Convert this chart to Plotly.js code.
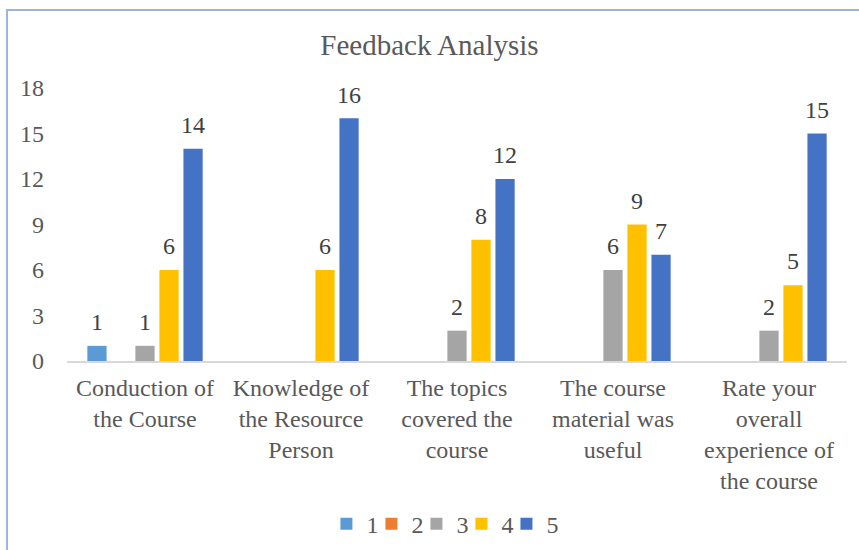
<!DOCTYPE html>
<html><head><meta charset="utf-8">
<script src="https://cdn.plot.ly/plotly-3.0.1.min.js"></script>
<style>
html,body{margin:0;padding:0;background:#fff;}
#wrap{position:relative;width:859px;height:550px;overflow:hidden;}
#chart{position:absolute;left:0;top:0;width:859px;height:550px;}
#frame{position:absolute;left:6px;top:9px;width:900px;height:600px;border-left:2px solid #9DB5DC;border-top:2px solid #9DB5DC;pointer-events:none;}
</style>
</head><body>
<div id="wrap"><div id="chart"></div><div id="frame"></div></div>
<script>
const categories = [
  "Conduction of<br>the Course",
  "Knowledge of<br>the Resource<br>Person",
  "The topics<br>covered the<br>course",
  "The course<br>material was<br>useful",
  "Rate your<br>overall<br>experience of<br>the course"
];
const seriesNames = ["1","2","3","4","5"];
const s1 = [1, null, null, null, null];
const s2 = [null, null, null, null, null];
const s3 = [1, null, 2, 6, 2];
const s4 = [6, 6, 8, 9, 5];
const s5 = [14, 16, 12, 7, 15];
const colors = ["#5B9BD5","#ED7D31","#A5A5A5","#FFC000","#4472C4"];
const values = [s1,s2,s3,s4,s5];
const FONT = "Liberation Serif";

const bars = values.map((v,i)=>{
  const t = {
    type:"bar", name:seriesNames[i], x:categories, y:v,
    marker:{color:colors[i]},
    hoverinfo:"skip"
  };
  if (i === values.length-1) t.legendwidth = 14;
  return t;
});
const labels = values.map((v,i)=>({
  type:"scatter", mode:"markers+text", x:categories, y:v, showlegend:false,
  text:v.map(t=>t===null?"":String(t)), textposition:"top center",
  marker:{size:14, color:"rgba(0,0,0,0)"}, cliponaxis:false,
  textfont:{family:FONT,size:24,color:"#404040"}, hoverinfo:"skip"
}));

const layout = {
  width:859, height:550,
  margin:{l:67,r:12,t:88,b:189},
  paper_bgcolor:"#fff", plot_bgcolor:"#fff",
  font:{family:FONT,size:24,color:"#595959"},
  title:{text:"Feedback Analysis", font:{family:FONT,size:29,color:"#595959"}, x:0.5, xanchor:"center", y:0.918, yanchor:"middle", yref:"container"},
  barmode:"group", bargap:0.23, bargroupgap:0.2,
  scattermode:"group", scattergap:0.23,
  xaxis:{showgrid:false, showline:true, linecolor:"#D9D9D9", linewidth:2, ticks:"", tickfont:{family:FONT,size:24,color:"#595959"}, ticklabelstandoff:4, automargin:false},
  yaxis:{range:[0,18], dtick:3, tick0:0, showgrid:false, zeroline:false, showline:false, ticks:"", tickfont:{family:FONT,size:24,color:"#595959"}, ticklabelstandoff:22, automargin:false},
  showlegend:true,
  legend:{orientation:"h", x:0.38, xanchor:"left", xref:"container", y:0.047, yanchor:"middle", yref:"container", font:{family:FONT,size:24,color:"#595959"}, itemwidth:30, entrywidth:0.01, entrywidthmode:"pixels", traceorder:"normal"}
};
Plotly.newPlot("chart", bars.concat(labels), layout, {displayModeBar:false, staticPlot:true});
</script>
</body></html>
